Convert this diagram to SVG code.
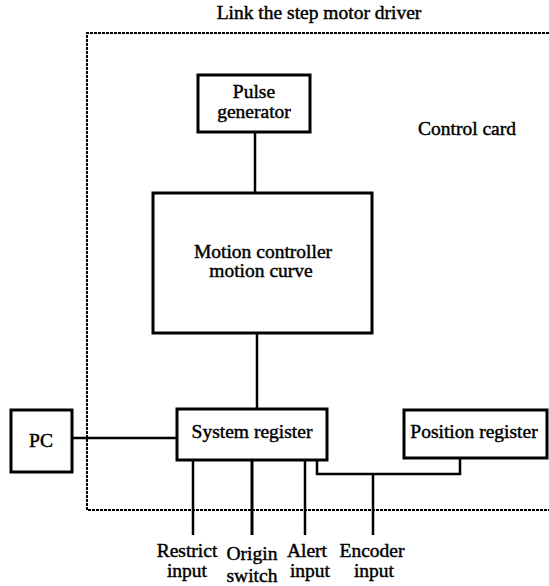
<svg xmlns="http://www.w3.org/2000/svg" width="549" height="586" viewBox="0 0 549 586">
<style>
.box{fill:#fff;stroke:#000;stroke-width:3}
.ln{fill:none;stroke:#000;stroke-width:2.5}
.dash{fill:none;stroke:#000;stroke-width:2;stroke-dasharray:3 1}
text{font-family:"Liberation Serif","Times New Roman",serif;font-size:19.5px;fill:#000;stroke:#000;stroke-width:0.45;text-anchor:middle}
</style>
<rect width="549" height="586" fill="#fff"/>
<g id="control-card">
<path class="dash" d="M549 33 H87 V510 H549"/>
<text x="467" y="135">Control card</text>
</g>
<text x="319" y="19">Link the step motor driver</text>
<g id="connectors">
<line class="ln" x1="255" y1="132" x2="255" y2="193"/>
<line class="ln" x1="257" y1="333" x2="257" y2="409"/>
<line class="ln" x1="72" y1="438" x2="177" y2="438"/>
<line class="ln" x1="193" y1="460" x2="193" y2="535"/>
<line class="ln" x1="252" y1="460" x2="252" y2="535" style="stroke-width:3"/>
<line class="ln" x1="305" y1="460" x2="305" y2="535"/>
<path class="ln" d="M317 460 V474 H460 V458"/>
<line class="ln" x1="373" y1="474" x2="373" y2="535"/>
</g>
<g id="pulse-generator">
<rect class="box" x="198" y="75" width="112" height="57"/>
<text x="254" y="98">Pulse</text>
<text x="254" y="118">generator</text>
</g>
<g id="motion-controller">
<rect class="box" x="153" y="193" width="219" height="140"/>
<text x="263" y="258">Motion controller</text>
<text x="261" y="277">motion curve</text>
</g>
<g id="pc">
<rect class="box" x="11" y="410" width="61" height="62"/>
<text x="41" y="447">PC</text>
</g>
<g id="system-register">
<rect class="box" x="177" y="409" width="150" height="51"/>
<text x="252" y="438">System register</text>
</g>
<g id="position-register">
<rect class="box" x="404" y="410" width="143" height="48"/>
<text x="474" y="438">Position register</text>
</g>
<g id="inputs">
<text x="187" y="557">Restrict</text>
<text x="187" y="577">input</text>
<text x="252" y="560">Origin</text>
<text x="252" y="582">switch</text>
<text x="307" y="557">Alert</text>
<text x="310" y="577">input</text>
<text x="372" y="557">Encoder</text>
<text x="374" y="577">input</text>
</g>
</svg>
